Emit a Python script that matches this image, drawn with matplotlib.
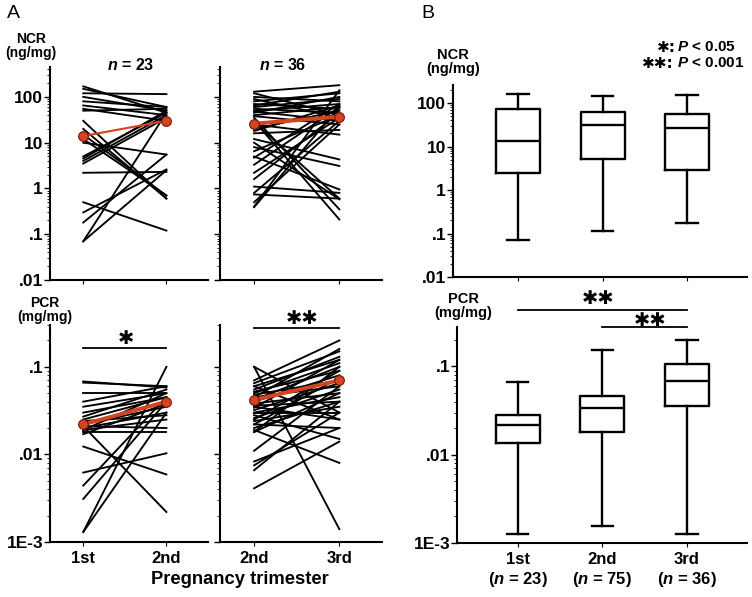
import numpy as np
import matplotlib
matplotlib.use('Agg')
import matplotlib.pyplot as plt
from matplotlib.ticker import LogLocator, NullFormatter

plt.rcParams['font.family'] = ['Liberation Sans', 'DejaVu Sans']
plt.rcParams['font.weight'] = 'bold'
plt.rcParams['mathtext.fontset'] = 'custom'
plt.rcParams['mathtext.it'] = 'Liberation Sans:italic:bold'
plt.rcParams['mathtext.rm'] = 'Liberation Sans:bold'

# ---- A: paired values (NCR, ng/mg) ----
ncr_1st = [170, 150, 120, 100, 80, 65, 55, 50, 30, 20, 15, 12, 10, 5, 4.5, 4, 3.5,
           2.2, 0.5, 0.3, 0.18, 0.07, 0.07]
ncr_2nd_a = [45, 60, 115, 50, 60, 40, 30, 55, 0.6, 0.6, 0.7, 0.7, 5.5, 45, 50, 40, 35,
             2.3, 0.12, 2.6, 5.5, 45, 2.5]
ncr_mean_a = [14, 30]

ncr_2nd_b = [130, 120, 80, 70, 60, 55, 50, 45, 40, 38, 35, 30, 20, 18, 16, 12, 10, 8,
             6.5, 5, 4.7, 3.3, 2.2, 1.6, 1.1, 0.8, 0.74, 0.5, 0.39, 0.4, 25, 90, 65, 48,
             100, 28]
ncr_3rd = [180, 40, 120, 55, 90, 45, 70, 100, 60, 25, 0.35, 0.21, 50, 65, 19, 4.3, 0.58,
           3.1, 40, 0.95, 70, 60, 35, 45, 0.8, 30, 0.6, 25, 60, 140, 15, 35, 130, 30,
           80, 0.6]
ncr_mean_b = [26, 37]

# ---- A: paired values (PCR, mg/mg) ----
pcr_1st = [0.068, 0.066, 0.04, 0.035, 0.027, 0.025, 0.022, 0.020, 0.019, 0.018, 0.021,
           0.0123, 0.0062, 0.0044, 0.0031, 0.0013, 0.0013, 0.03, 0.024, 0.019, 0.021,
           0.05, 0.017]
pcr_2nd_a = [0.058, 0.06, 0.06, 0.05, 0.055, 0.045, 0.035, 0.03, 0.025, 0.018, 0.0022,
             0.0059, 0.0103, 0.045, 0.04, 0.1, 0.03, 0.045, 0.028, 0.05, 0.02, 0.05, 0.038]
pcr_mean_a = [0.022, 0.040]

pcr_2nd_b = [0.1, 0.1, 0.07, 0.065, 0.06, 0.055, 0.052, 0.05, 0.048, 0.045, 0.042, 0.04,
             0.038, 0.036, 0.034, 0.032, 0.03, 0.03, 0.028, 0.026, 0.025, 0.024, 0.022,
             0.022, 0.02, 0.019, 0.018, 0.018, 0.011, 0.0083, 0.0066, 0.0075, 0.0041,
             0.045, 0.06, 0.035]
pcr_3rd = [0.0014, 0.03, 0.2, 0.15, 0.12, 0.13, 0.09, 0.11, 0.07, 0.06, 0.1, 0.08, 0.05,
           0.04, 0.12, 0.065, 0.045, 0.03, 0.015, 0.055, 0.09, 0.035, 0.02, 0.075, 0.04,
           0.008, 0.1, 0.05, 0.06, 0.02, 0.04, 0.03, 0.014, 0.16, 0.025, 0.025]
pcr_mean_b = [0.042, 0.070]

# ---- B: box statistics ----
trimesters = ['1st', '2nd', '3rd']
n_counts = [23, 75, 36]
ncr_whislo = [0.07, 0.115, 0.17]
ncr_q1 = [2.5, 5.2, 2.9]
ncr_med = [13.5, 31, 27]
ncr_q3 = [73, 62, 56]
ncr_whishi = [160, 145, 150]

pcr_whislo = [0.00126, 0.00155, 0.00126]
pcr_q1 = [0.0137, 0.018, 0.036]
pcr_med = [0.022, 0.034, 0.068]
pcr_q3 = [0.028, 0.046, 0.107]
pcr_whishi = [0.066, 0.155, 0.2]

ncr_ticks = [0.01, 0.1, 1, 10, 100]
ncr_ticklabels = ['.01', '.1', '1', '10', '100']
pcr_ticks = [0.001, 0.01, 0.1]
pcr_ticklabels = ['1E-3', '.01', '.1']

W, H = 752, 597
fig = plt.figure(figsize=(W / 100, H / 100), dpi=100)


def rect(x0, y0, x1, y1):
    return [x0 / W, 1 - y1 / H, (x1 - x0) / W, (y1 - y0) / H]


def ftext(x, y, s, **kw):
    kw.setdefault('ha', 'center')
    kw.setdefault('va', 'center')
    fig.text(x / W, 1 - y / H, s, **kw)


def style(ax, ylim, ticks, labels, show=True):
    ax.set_yscale('log')
    ax.set_ylim(*ylim)
    for s in ['top', 'right']:
        ax.spines[s].set_visible(False)
    ax.spines['left'].set_linewidth(1.5)
    ax.spines['bottom'].set_linewidth(1.5)
    ax.set_yticks(ticks)
    ax.set_yticklabels(labels if show else [])
    ax.yaxis.set_minor_locator(LogLocator(base=10, subs=np.arange(2, 10)))
    ax.yaxis.set_minor_formatter(NullFormatter())
    ax.tick_params(axis='y', which='major', length=4, width=1, labelsize=12.5, pad=1)
    ax.tick_params(axis='y', which='minor', length=2, width=0.6)
    ax.tick_params(axis='x', length=3, width=0.8, labelsize=12)


def paired(ax, pre, post, mean, red_lw):
    for a, b in zip(pre, post):
        ax.plot([0, 1], [a, b], color='black', lw=1.35)
    ax.plot([0, 1], mean, color='#d8431f', lw=red_lw, marker='o', ms=7,
            mfc='#d8431f', mec='#6a1a08', mew=0.8, zorder=5, clip_on=False)
    ax.set_xlim(-0.4, 1.5)
    ax.set_xticks([0, 1])


def star(x, y, s, size):
    ftext(x, y, s, fontsize=size, family=['DejaVu Sans'])


# panel A
ax1 = fig.add_axes(rect(50, 67, 208, 280))
paired(ax1, ncr_1st, ncr_2nd_a, ncr_mean_a, 1.5)
style(ax1, (0.01, 450), ncr_ticks, ncr_ticklabels)
ax1.set_xticklabels([])

ax2 = fig.add_axes(rect(220, 67, 382, 280))
paired(ax2, ncr_2nd_b, ncr_3rd, ncr_mean_b, 2.8)
style(ax2, (0.01, 450), ncr_ticks, ncr_ticklabels, show=False)
ax2.set_xticklabels([])

ax3 = fig.add_axes(rect(50, 325, 208, 542))
paired(ax3, pcr_1st, pcr_2nd_a, pcr_mean_a, 2.8)
style(ax3, (0.001, 0.3), pcr_ticks, pcr_ticklabels)
ax3.set_xticklabels(['1st', '2nd'])
ax3.plot([0, 1], [0.166, 0.166], color='black', lw=1.3, clip_on=False)

ax4 = fig.add_axes(rect(220, 325, 382, 542))
paired(ax4, pcr_2nd_b, pcr_3rd, pcr_mean_b, 2.8)
style(ax4, (0.001, 0.3), pcr_ticks, pcr_ticklabels, show=False)
ax4.set_xticklabels(['2nd', '3rd'])
ax4.plot([0, 1], [0.28, 0.28], color='black', lw=1.3, clip_on=False)

# panel B
box_kw = dict(positions=[1, 2, 3], widths=0.52, capwidths=0.25, showfliers=False,
              boxprops=dict(lw=1.7), whiskerprops=dict(lw=1.7), capprops=dict(lw=1.7),
              medianprops=dict(color='black', lw=1.7))

ax5 = fig.add_axes(rect(453, 85, 747, 277))
stats = [dict(med=m, q1=a, q3=b, whislo=lo, whishi=hi)
         for lo, a, m, b, hi in zip(ncr_whislo, ncr_q1, ncr_med, ncr_q3, ncr_whishi)]
ax5.bxp(stats, **box_kw)
style(ax5, (0.01, 260), ncr_ticks, ncr_ticklabels)
ax5.set_xlim(0.23, 3.71)
ax5.set_xticks([1, 2, 3])
ax5.set_xticklabels([])

ax6 = fig.add_axes(rect(457, 327, 747, 543))
stats = [dict(med=m, q1=a, q3=b, whislo=lo, whishi=hi)
         for lo, a, m, b, hi in zip(pcr_whislo, pcr_q1, pcr_med, pcr_q3, pcr_whishi)]
ax6.bxp(stats, **box_kw)
style(ax6, (0.001, 0.28), pcr_ticks, pcr_ticklabels)
ax6.set_xlim(0.28, 3.71)
ax6.set_xticks([1, 2, 3])
ax6.set_xticklabels([f'{t}\n($\\mathit{{n}}$ = {n})' for t, n in zip(trimesters, n_counts)],
                    linespacing=1.2)
ax6.plot([1, 3], [0.44, 0.44], color='black', lw=1.3, clip_on=False)
ax6.plot([2, 3], [0.28, 0.28], color='black', lw=1.3, clip_on=False)

# texts
ftext(13, 13, 'A', fontsize=14, fontweight='normal')
ftext(428, 13, 'B', fontsize=14, fontweight='normal')
ftext(31, 46, 'NCR\n(ng/mg)', fontsize=10, linespacing=1.0)
ftext(45, 310, 'PCR\n(mg/mg)', fontsize=10, linespacing=1.0)
ftext(453, 62, 'NCR\n(ng/mg)', fontsize=10.5, linespacing=1.05)
ftext(463, 306, 'PCR\n(mg/mg)', fontsize=10.5, linespacing=1.05)
ftext(131, 65, '$\\mathit{n}$ = 23', fontsize=11.5)
ftext(283, 65, '$\\mathit{n}$ = 36', fontsize=11.5)
ftext(240, 579, 'Pregnancy trimester', fontsize=13.2)

star(126, 339, '✱', 14)
star(302, 318, '✱✱', 14)
star(598, 298, '✱✱', 14)
star(650, 320, '✱✱', 14)

star(666, 47, '✱:', 11)
star(658, 63, '✱✱:', 11)
ftext(677, 47, '$\\mathit{P}$ < 0.05', fontsize=11, ha='left')
ftext(677, 63, '$\\mathit{P}$ < 0.001', fontsize=11, ha='left')

fig.savefig('out.png', dpi=100)
